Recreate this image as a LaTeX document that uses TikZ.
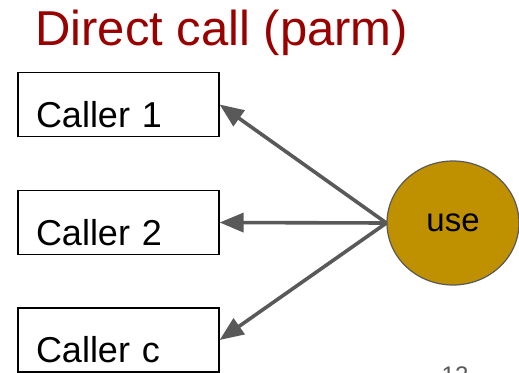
\documentclass[tikz,border=0pt]{standalone}
\usepackage{fontspec}
\setmainfont{Liberation Sans}
\usetikzlibrary{shapes.geometric,arrows.meta}
\definecolor{titlered}{HTML}{990000}
\definecolor{usegold}{HTML}{BF9000}
\definecolor{arrowgray}{HTML}{595959}
\begin{document}
\begin{tikzpicture}[x=1pt, y=-1pt,
    caller/.style={draw, line width=1.2pt, minimum height=64pt, text width=165pt,
      inner xsep=18pt, inner ysep=0pt, align=left, text height=45pt, text depth=0pt,
      font=\fontsize{36}{40}\selectfont},
    link/.style={arrowgray, line width=3.6pt, -{Triangle[length=24pt,width=19pt]}}]
  \path[use as bounding box, clip] (0,0) rectangle (519,372);
  % Title
  \node[anchor=base west, inner sep=0pt, text=titlered, font=\fontsize{49}{54}\selectfont] at (35,45) (title) {Direct call (parm)};

  % Nodes
  \node[caller] at (118.5,104.5) (c1) {Caller 1};
  \node[caller] at (118.5,222.5) (c2) {Caller 2};
  \node[caller] at (118.5,340) (cc) {Caller c};
  \node[ellipse, draw=arrowgray, line width=1.2pt, fill=usegold, minimum width=132pt, minimum height=124pt,
    inner sep=0pt, font=\fontsize{33}{36}\selectfont] at (453,223) (use) {use};

  \draw[link] (use.west) -- (c1.east);
  \draw[link] (use.west) -- (c2.east);
  \draw[link] (use.west) -- (cc.east);

  % Page number
  \node[anchor=base, inner sep=0pt, text=arrowgray, font=\fontsize{24}{28}\selectfont] at (455,383) (page) {12};
\end{tikzpicture}
\end{document}
